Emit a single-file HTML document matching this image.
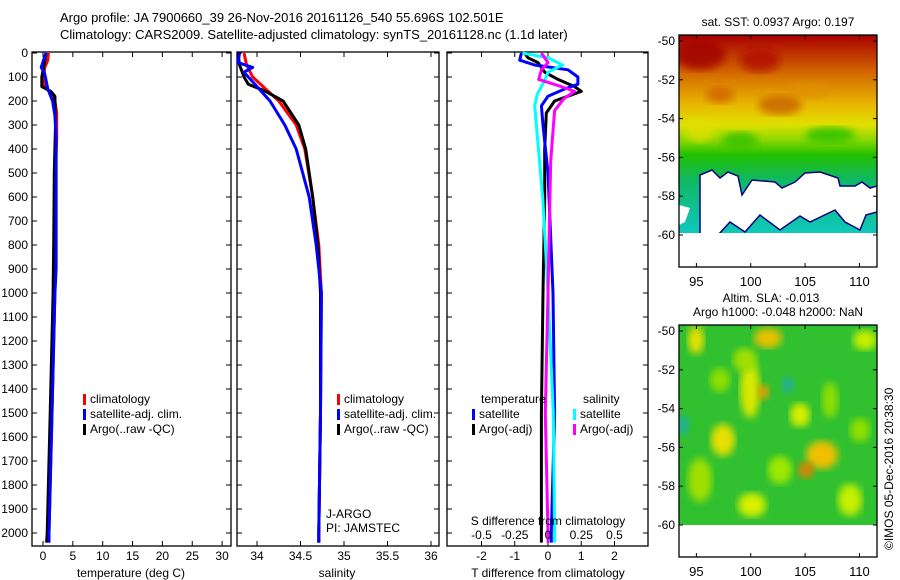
<!DOCTYPE html>
<html><head><meta charset="utf-8">
<style>
body{margin:0;background:#fff;}
svg{display:block;font-family:"Liberation Sans",sans-serif;}
text{font-size:12px;fill:#000;}
</style></head>
<body>
<svg id="fig" width="900" height="580" viewBox="0 0 900 580" xmlns="http://www.w3.org/2000/svg">
<defs>
<linearGradient id="sstGrad" x1="0" y1="0" x2="0" y2="1">
<stop offset="0" stop-color="#a80000"/>
<stop offset="0.1" stop-color="#c03800"/>
<stop offset="0.22" stop-color="#d87800"/>
<stop offset="0.35" stop-color="#e8b800"/>
<stop offset="0.45" stop-color="#e0e000"/>
<stop offset="0.52" stop-color="#90d800"/>
<stop offset="0.6" stop-color="#20c000"/>
<stop offset="0.72" stop-color="#10b860"/>
<stop offset="1" stop-color="#10c8c0"/>
</linearGradient>
<filter id="blur4"><feGaussianBlur stdDeviation="4"/></filter>
<clipPath id="m2clip"><rect x="679" y="325" width="198" height="200"/></clipPath>
<clipPath id="m1clip"><rect x="679" y="35" width="198" height="232"/></clipPath>
</defs>
<text x="60" y="22" style="font-size:13px">Argo profile: JA 7900660_39 26-Nov-2016 20161126_540 55.696S 102.501E</text>
<text x="60" y="39" style="font-size:13px">Climatology: CARS2009. Satellite-adjusted climatology: synTS_20161128.nc (1.1d later)</text>
<g id="panels"></g>
<g id="maps"></g>
</svg>
<script>
// ---- data ----
const depthTicks=[0,100,200,300,400,500,600,700,800,900,1000,1100,1200,1300,1400,1500,1600,1700,1800,1900,2000];
const tempTicks=[0,5,10,15,20,25,30];
const salTicks=[34,34.5,35,35.5,36];
const tdiffTicks=[-2,-1,0,1,2];
const sdiffTicks=[-0.5,-0.25,0,0.25,0.5];
const sdiffTickLabels=["-0.5","-0.25","0","0.25","0.5"];

const tClimDepth=[0,30,60,100,140,170,200,250,350,500,900,1000,1500,2000,2040];
const tClimVal=[0.9,0.8,0.3,0.1,0.3,1.5,2.0,2.3,2.3,2.1,2.1,2.0,1.5,1.0,1.0];
const tArgoDepth=[0,60,100,140,160,180,300,500,800,1000,1500,2000,2040];
const tArgoVal=[0.5,0.1,-0.2,-0.2,1.3,2.0,2.1,1.9,1.8,1.7,1.2,0.7,0.6];
const tSatDepth=[0,60,80,100,150,200,260,350,900,1000,1500,2000,2040];
const tSatVal=[0.5,-0.3,0.2,0.4,0.8,1.6,2.0,2.2,2.2,2.0,1.5,1.0,1.0];

const sClimDepth=[0,50,100,150,200,300,400,600,800,1000,1500,2000,2040];
const sClimVal=[33.85,33.88,33.95,34.1,34.25,34.45,34.55,34.64,34.71,34.74,34.73,34.71,34.71];
const sArgoDepth=[0,50,100,130,160,200,300,400,600,800,1000,1500,2000,2040];
const sArgoVal=[33.78,33.8,33.85,33.9,34.1,34.3,34.48,34.56,34.64,34.7,34.73,34.73,34.71,34.71];
const sSatDepth=[0,40,60,80,120,160,200,300,400,600,800,1000,1500,2000,2040];
const sSatVal=[33.8,33.78,33.95,33.85,33.95,34.05,34.15,34.32,34.45,34.6,34.68,34.74,34.73,34.71,34.71];

const dTArgoDepth=[0,20,40,80,110,140,160,180,200,250,400,600,1000,1500,2000,2040];
const dTArgoVal=[-0.7,-0.6,-0.3,-0.1,0.3,0.8,1.0,0.6,0.2,-0.05,-0.1,-0.1,-0.15,-0.2,-0.2,-0.2];
const dTSatDepth=[0,30,50,70,100,130,150,180,220,300,500,1000,1500,2000,2040];
const dTSatVal=[-0.8,-0.85,-0.4,0.6,0.9,0.9,0.5,0.0,-0.2,-0.15,0.0,0.15,0.2,0.1,0.1];
const dSSatDepth=[0,20,50,80,120,170,220,350,600,1000,1500,2000,2040];
const dSSatVal=[-0.19,0.0,0.11,0.0,-0.03,-0.08,-0.1,-0.08,-0.04,0.0,0.04,0.05,0.05];
const dSArgoDepth=[0,40,70,110,140,160,190,240,450,1000,1500,2000,2040];
const dSArgoVal=[-0.05,0.0,-0.05,-0.07,0.1,0.2,0.12,0.05,0.02,0.0,-0.02,0.0,0.0];

const latTicks=[-50,-52,-54,-56,-58,-60];
const lonTicks=[95,100,105,110];

// ---- helpers ----
const NS="http://www.w3.org/2000/svg";
function mk(tag,attrs,parent){const e=document.createElementNS(NS,tag);for(const k in attrs)e.setAttribute(k,attrs[k]);parent.appendChild(e);return e;}
const Y0=53, PXD=0.24, BOT=546, TOP=52;
const yD=d=>Y0+d*PXD;
const xT=v=>43+v*5.97;
const xS=v=>257+(v-34)*87;
const xdT=v=>548+v*33.25;
const xdS=v=>548+v*133;
const G=document.getElementById('panels');
const M=document.getElementById('maps');

function panel(x0,x1,name,leftLabels){
  const r=mk('rect',{x:x0,y:TOP,width:x1-x0,height:BOT-TOP,fill:'none',stroke:'#000','stroke-width':1.3},G);
  
  
  depthTicks.forEach(d=>{
    mk('line',{x1:x0,x2:x0+5,y1:yD(d),y2:yD(d),stroke:'#000'},G);
    mk('line',{x1:x1-5,x2:x1,y1:yD(d),y2:yD(d),stroke:'#000'},G);
    if(leftLabels){const t=mk('text',{x:x0-4,y:yD(d)+4,'text-anchor':'end'},G);t.textContent=d;
      
      }
  });
}
function xticks(ticks,fx,labels,name){
  ticks.forEach((v,i)=>{
    mk('line',{x1:fx(v),x2:fx(v),y1:BOT,y2:BOT-5,stroke:'#000'},G);
    mk('line',{x1:fx(v),x2:fx(v),y1:TOP,y2:TOP+5,stroke:'#000'},G);
    const t=mk('text',{x:fx(v),y:BOT+14,'text-anchor':'middle'},G);t.textContent=labels?labels[i]:v;
    
    
  });
}
function line(ds,vs,fx,color,name){
  const p=mk('polyline',{points:ds.map((d,i)=>fx(vs[i]).toFixed(1)+','+yD(d).toFixed(1)).join(' '),fill:'none',stroke:color,'stroke-width':3,'stroke-linejoin':'round'},G);
  
  
}
function txt(x,y,s,name,anchor){const t=mk('text',{x:x,y:y,'text-anchor':anchor||'start'},G);t.textContent=s;
  
  return t;}
function legend(x,y,items,prefix){
  items.forEach((it,i)=>{
    const r=mk('rect',{x:x,y:y+i*15-9,width:3,height:11,fill:it[0]},G);
    
    
    txt(x+7,y+i*15,it[1],prefix+'-legend-entry');
  });
}

// Panel 1 temperature
panel(32,231,'temperature-panel',true);
xticks(tempTicks,xT,null,'temperature');
txt(131,577,'temperature (deg C)','temperature-axis-title','middle');
line(tClimDepth,tClimVal,xT,'#ff0000','temperature-climatology-line');
line(tArgoDepth,tArgoVal,xT,'#000000','temperature-argo-line');
line(tSatDepth,tSatVal,xT,'#0000ff','temperature-satellite-line');
legend(83,403,[['#ff0000','climatology'],['#0000ff','satellite-adj. clim.'],['#000','Argo(..raw -QC)']],'temperature');

// Panel 2 salinity
panel(237,439,'salinity-panel',false);
xticks(salTicks,xS,null,'salinity');
txt(337,577,'salinity','salinity-axis-title','middle');
line(sClimDepth,sClimVal,xS,'#ff0000','salinity-climatology-line');
line(sArgoDepth,sArgoVal,xS,'#000000','salinity-argo-line');
line(sSatDepth,sSatVal,xS,'#0000ff','salinity-satellite-line');
legend(337,403,[['#ff0000','climatology'],['#0000ff','satellite-adj. clim.'],['#000','Argo(..raw -QC)']],'salinity');
txt(326,518,'J-ARGO','float-program-label');
txt(326,532,'PI: JAMSTEC','float-pi-label');

// Panel 3 differences
panel(447,648,'difference-panel',false);
xticks(tdiffTicks,xdT,null,'t-difference');
txt(548,577,'T difference from climatology','t-difference-axis-title','middle');
line(dTArgoDepth,dTArgoVal,xdT,'#000000','t-diff-argo-line');
line(dTSatDepth,dTSatVal,xdT,'#0000ff','t-diff-satellite-line');
line(dSSatDepth,dSSatVal,xdS,'#00ffff','s-diff-satellite-line');
line(dSArgoDepth,dSArgoVal,xdS,'#ff00ff','s-diff-argo-line');
sdiffTicks.forEach((v,i)=>txt(xdS(v),539,sdiffTickLabels[i],'s-difference-tick-label','middle'));
txt(548,525,'S difference from climatology','s-difference-axis-title','middle');
txt(481,403,'temperature','diff-legend-temperature-header');
txt(583,403,'salinity','diff-legend-salinity-header');
legend(472,418,[['#0000ff','satellite'],['#000','Argo(-adj)']],'t-diff');
legend(573,418,[['#00ffff','satellite'],['#ff00ff','Argo(-adj)']],'s-diff');

// ---- Maps ----
const mx=lon=>679+(lon-93.4)*10.87;
function mapAxes(y0,yLat50,name){
  const r=mk('rect',{x:679,y:y0,width:198,height:232,fill:'none',stroke:'#000','stroke-width':1.3},M);
  
  
  latTicks.forEach(l=>{const y=yLat50+(-50-l)*19.4;
    mk('line',{x1:679,x2:683,y1:y,y2:y,stroke:'#000'},M);
    mk('line',{x1:873,x2:877,y1:y,y2:y,stroke:'#000'},M);
    const t=mk('text',{x:675,y:y+4,'text-anchor':'end'},M);t.textContent=l;
    
    });
  lonTicks.forEach(l=>{const x=mx(l);
    mk('line',{x1:x,x2:x,y1:y0+232,y2:y0+228,stroke:'#000'},M);
    mk('line',{x1:x,x2:x,y1:y0,y2:y0+4,stroke:'#000'},M);
    const t=mk('text',{x:x,y:y0+251,'text-anchor':'middle',style:'font-size:13px'},M);t.textContent=l;
    
    });
}
// map 1 SST
const g1=mk('g',{'clip-path':'url(#m1clip)'},M);


mk('rect',{x:679,y:35,width:198,height:200,fill:'url(#sstGrad)'},g1);
[[700,55,25,15,'#a00000'],[760,60,20,12,'#b01000'],[780,105,22,10,'#c86000'],[720,95,14,8,'#d06000'],[810,90,20,8,'#e09000'],[740,140,18,8,'#30c000'],[830,135,25,8,'#20c000'],[700,130,14,12,'#e0e000']].forEach(b=>{
  mk('ellipse',{cx:b[0],cy:b[1],rx:b[2],ry:b[3],fill:b[4],opacity:0.8,filter:'url(#blur4)'},g1);});
mk('polygon',{points:'700,235 700,175 712,170 720,178 728,172 738,176 742,195 752,180 775,182 782,188 795,182 805,173 820,172 838,178 840,186 855,186 862,182 870,188 877,186 877,212 866,215 860,230 845,222 835,210 810,222 800,216 780,230 760,215 745,232 730,222 718,235',fill:'#fff',stroke:'#000080','stroke-width':1.5},g1);
mk('polygon',{points:'679,205 690,208 685,222 679,225',fill:'#fff'},g1);
mk('rect',{x:679,y:233,width:198,height:34,fill:'#fff'},g1);
mapAxes(35,41,'sst-map');
let t1=mk('text',{x:778,y:26,'text-anchor':'middle'},M);t1.textContent='sat. SST: 0.0937 Argo: 0.197';



// map 2 SLA
const g2=mk('g',{'clip-path':'url(#m2clip)'},M);


mk('rect',{x:679,y:325,width:198,height:200,fill:'#30c030'},g2);
[[696,340,8,14,'#e8e000'],[768,338,14,10,'#e8c000'],[750,390,10,28,'#d8e800'],[723,440,12,16,'#e8e000'],[822,455,16,14,'#f0c000'],[806,470,8,8,'#e08000'],[763,392,6,8,'#e8a000'],[752,505,14,12,'#d8f000'],[850,500,12,16,'#c8f000'],[800,415,10,12,'#d8f000'],[865,340,12,10,'#c8f000'],[745,360,12,12,'#a0e000'],[700,480,12,22,'#a0e000'],[830,400,8,18,'#90e000'],[720,380,10,12,'#90e000'],[780,470,12,14,'#a0e800'],[860,430,10,12,'#90e000']].forEach(b=>{
  mk('ellipse',{cx:b[0],cy:b[1],rx:b[2],ry:b[3],fill:b[4],filter:'url(#blur4)'},g2);});
mk('ellipse',{cx:788,cy:385,rx:6,ry:8,fill:'#20b0a0',filter:'url(#blur4)'},g2);
mk('ellipse',{cx:683,cy:425,rx:6,ry:10,fill:'#20b0a0',filter:'url(#blur4)'},g2);
mapAxes(325,331,'sla-map');
let t2=mk('text',{x:771,y:302,'text-anchor':'middle'},M);t2.textContent='Altim. SLA: -0.013';


let t3=mk('text',{x:778,y:316,'text-anchor':'middle'},M);t3.textContent='Argo h1000: -0.048 h2000: NaN';


let t4=mk('text',{x:0,y:0,transform:'translate(893,550) rotate(-90)'},M);t4.textContent='©IMOS 05-Dec-2016 20:38:30';


</script>
</body></html>
